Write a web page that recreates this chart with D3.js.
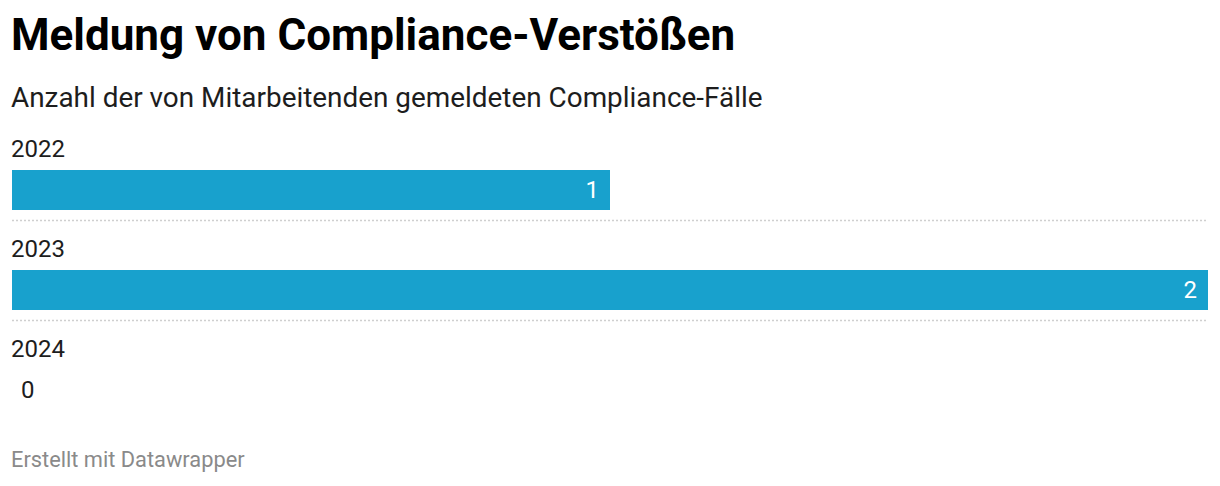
<!DOCTYPE html>
<html>
<head>
<meta charset="utf-8">
<script src="https://cdn.jsdelivr.net/npm/d3@7"></script>
<style>
  body { margin: 0; background: #fff; font-family: Roboto, "Noto Sans", sans-serif; }
</style>
</head>
<body>
<div id="chart"></div>
<script>
// data
var years = ["2022", "2023", "2024"];
var cases = [1, 2, 0];

var width = 1220, height = 486;

var svg = d3.select("#chart")
  .append("svg")
    .attr("width", width)
    .attr("height", height);

// title + subtitle
svg.append("text")
  .attr("x", 11).attr("y", 50)
  .text("Meldung von Compliance-Verstößen")
  .style("font-size", "44px")
  .style("font-weight", "700")
  .style("fill", "#000");

svg.append("text")
  .attr("x", 11).attr("y", 107)
  .text("Anzahl der von Mitarbeitenden gemeldeten Compliance-Fälle")
  .style("font-size", "27.9px")
  .style("fill", "#1d1d1d");

// scales
var x = d3.scaleLinear()
  .domain([0, 2])
  .range([12, 1208]);

var y = d3.scaleBand()
  .domain(years)
  .range([130, 430]);

var rows = svg.append("g")
  .selectAll("g")
  .data(years)
  .enter()
  .append("g")
    .attr("transform", function (d) { return "translate(0," + y(d) + ")"; });

// year labels
rows.append("text")
  .attr("x", 11).attr("y", 27)
  .text(function (d) { return d; })
  .style("font-size", "24px")
  .style("fill", "#1d1d1d");

// bars
rows.append("rect")
  .attr("x", x(0))
  .attr("y", 40)
  .attr("height", 40)
  .attr("width", function (d, i) { return x(cases[i]) - x(0); })
  .style("fill", "#18a1cd");

// value labels (inside bar, or after it when empty)
rows.append("text")
  .attr("x", function (d, i) { return cases[i] > 0 ? x(cases[i]) - 11 : x(0) + 9; })
  .attr("y", 68)
  .attr("text-anchor", function (d, i) { return cases[i] > 0 ? "end" : "start"; })
  .text(function (d, i) { return cases[i]; })
  .style("font-size", "24px")
  .style("fill", function (d, i) { return cases[i] > 0 ? "#fff" : "#1d1d1d"; });

// dotted separators between rows
rows.filter(function (d, i) { return i < years.length - 1; })
  .append("line")
    .attr("x1", 12).attr("x2", 1208)
    .attr("y1", 90.5).attr("y2", 90.5)
    .style("stroke", "#cfcfcf")
    .style("stroke-width", 1.5)
    .style("stroke-dasharray", "2,2");

// footer
svg.append("text")
  .attr("x", 11).attr("y", 467)
  .text("Erstellt mit Datawrapper")
  .style("font-size", "21.8px")
  .style("fill", "#8a8a8a");
</script>
</body>
</html>
